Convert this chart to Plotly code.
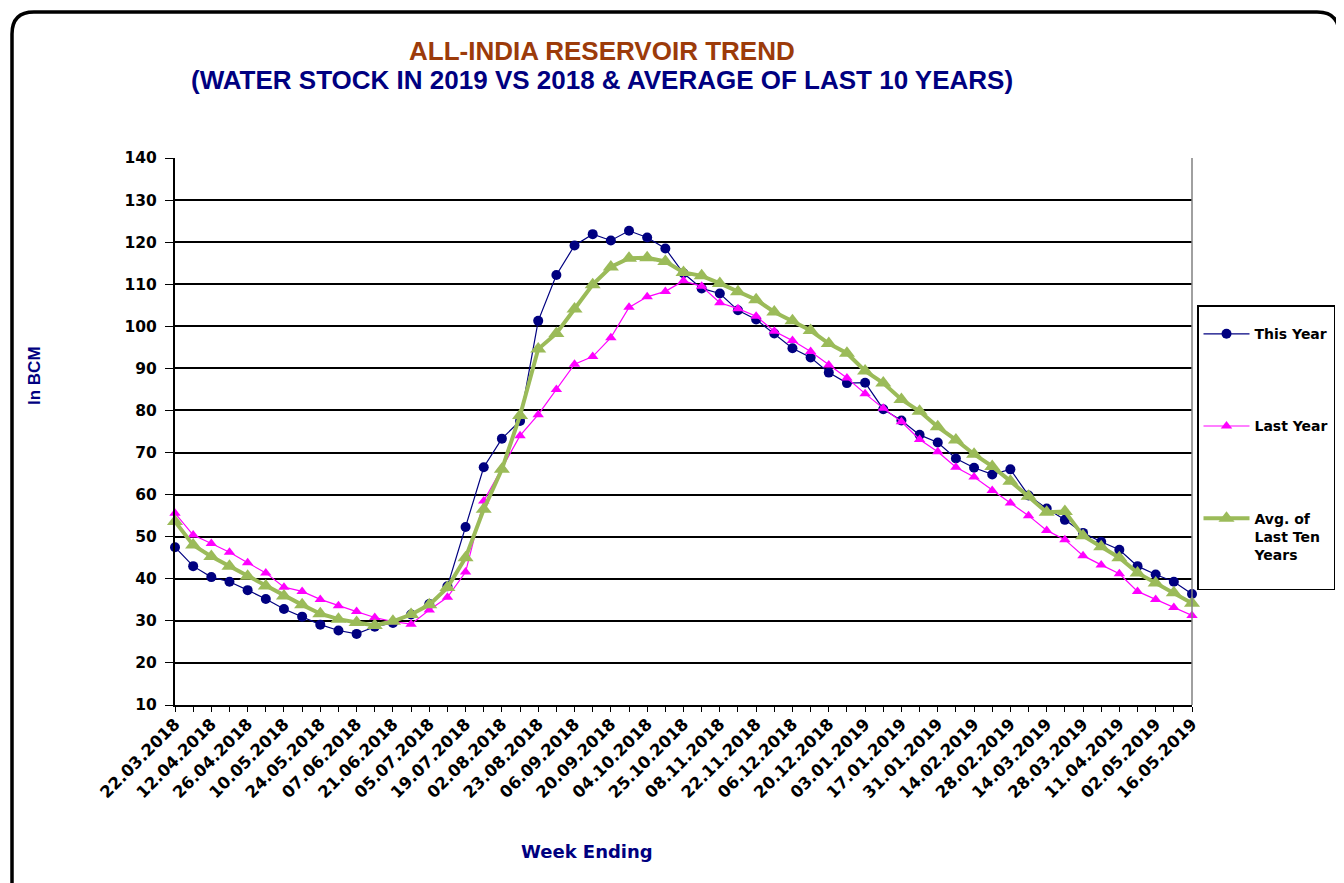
import plotly.graph_objects as go

weeks = [
    "22.03.2018", "05.04.2018", "12.04.2018", "19.04.2018", "26.04.2018", "03.05.2018",
    "10.05.2018", "17.05.2018", "24.05.2018", "31.05.2018", "07.06.2018", "14.06.2018",
    "21.06.2018", "28.06.2018", "05.07.2018", "12.07.2018", "19.07.2018", "26.07.2018",
    "02.08.2018", "16.08.2018", "23.08.2018", "30.08.2018", "06.09.2018", "13.09.2018",
    "20.09.2018", "27.09.2018", "04.10.2018", "11.10.2018", "25.10.2018", "01.11.2018",
    "08.11.2018", "15.11.2018", "22.11.2018", "29.11.2018", "06.12.2018", "13.12.2018",
    "20.12.2018", "27.12.2018", "03.01.2019", "10.01.2019", "17.01.2019", "24.01.2019",
    "31.01.2019", "07.02.2019", "14.02.2019", "21.02.2019", "28.02.2019", "07.03.2019",
    "14.03.2019", "21.03.2019", "28.03.2019", "04.04.2019", "11.04.2019", "25.04.2019",
    "02.05.2019", "09.05.2019", "16.05.2019",
]

this_year = [
    47.5, 43.0, 40.4, 39.3, 37.3, 35.2, 32.8, 31.0, 29.1, 27.7,
    26.9, 28.6, 29.5, 31.5, 34.0, 38.2, 52.3, 66.5, 73.3, 77.5,
    101.3, 112.2, 119.2, 121.9, 120.4, 122.7, 121.1, 118.5, 112.6, 109.0,
    107.8, 103.8, 101.6, 98.3, 94.8, 92.6, 89.0, 86.5, 86.6, 80.3,
    77.6, 74.2, 72.4, 68.6, 66.4, 64.8, 66.0, 59.8, 56.7, 54.0,
    50.9, 48.8, 46.9, 43.0, 41.0, 39.3, 36.4,
]

last_year = [
    55.6, 50.4, 48.4, 46.3, 43.8, 41.4, 38.0, 37.0, 35.1, 33.6,
    32.2, 30.8, 29.8, 29.2, 32.6, 35.6, 41.6, 58.5, 66.3, 74.0,
    79.0, 85.0, 91.0, 92.8, 97.3, 104.5, 107.0, 108.3, 110.8, 109.5,
    105.6, 104.2, 102.4, 98.8, 96.6, 94.0, 90.8, 87.7, 84.0, 80.5,
    77.3, 73.1, 70.2, 66.5, 64.2, 61.0, 58.0, 55.0, 51.5, 49.3,
    45.5, 43.3, 41.2, 37.0, 35.1, 33.2, 31.3,
]

avg_10yr = [
    53.6, 48.0, 45.3, 43.0, 40.6, 38.3, 35.9, 33.8, 31.7, 30.4,
    29.6, 28.9, 29.9, 31.5, 33.8, 37.9, 45.0, 56.5, 66.0, 78.8,
    94.6, 98.3, 104.1, 109.9, 114.1, 116.2, 116.3, 115.4, 112.8, 112.0,
    110.2, 108.2, 106.3, 103.4, 101.3, 99.0, 95.9, 93.6, 89.4, 86.5,
    82.6, 79.8, 76.1, 73.0, 69.6, 66.7, 63.2, 59.6, 55.8, 56.0,
    50.2, 47.6, 45.0, 41.4, 39.0, 36.7, 34.2,
]

series_names = ["This Year", "Last Year", "Avg. of<br>Last Ten<br>Years<br> "]
y_ticks = list(range(10, 141, 10))

# page body has an 8px margin, so the figure is drawn 8px smaller and all
# reference pixel positions are shifted by OFF
OFF = 8
W, H = 1344 - OFF, 883 - OFF
L, R, T, B = 175 - OFF, 152, 158 - OFF, 178
PW, PH = W - L - R, H - T - B


def px(x):
    return (x - OFF - L) / PW


def py(y):
    return (H - B - (y - OFF)) / PH


TICKFONT = "DejaVu Sans, Verdana, sans-serif"
ARIAL = "Liberation Sans, Arial, sans-serif"

fig = go.Figure()
fig.add_trace(go.Scatter(
    x=weeks, y=this_year, name=series_names[0], mode="lines+markers",
    line=dict(color="#000080", width=1.2),
    marker=dict(symbol="circle", size=10, color="#000080"),
    legendgroup="a", cliponaxis=False,
))
fig.add_trace(go.Scatter(
    x=weeks, y=last_year, name=series_names[1], mode="lines+markers",
    line=dict(color="#FF00FF", width=1.2),
    marker=dict(symbol="triangle-up", size=10, color="#FF00FF"),
    legendgroup="b", cliponaxis=False,
))
fig.add_trace(go.Scatter(
    x=weeks, y=avg_10yr, name=series_names[2], mode="lines+markers",
    line=dict(color="#9BBB59", width=4),
    marker=dict(symbol="triangle-up", size=14, color="#9BBB59"),
    legendgroup="c", cliponaxis=False,
))

ticktext = [w if i % 2 == 0 else "" for i, w in enumerate(weeks)]

fig.update_layout(
    width=W, height=H,
    margin=dict(l=L, r=R, t=T, b=B, autoexpand=False),
    paper_bgcolor="white", plot_bgcolor="white",
    font=dict(family=ARIAL, color="black"),
    showlegend=True,
    legend=dict(
        x=px(1197), y=py(305), xanchor="left", yanchor="top",
        bgcolor="white", bordercolor="black", borderwidth=1.5,
        font=dict(size=14, color="black", family=TICKFONT, weight="bold"),
        title=dict(text=" ", font=dict(size=9)),
        traceorder="grouped", tracegroupgap=71, valign="top",
        itemwidth=46, entrywidth=89,
    ),
    xaxis=dict(
        type="category", categoryorder="array", categoryarray=weeks,
        range=[0, len(weeks) - 1],
        tickmode="array", tickvals=weeks, ticktext=ticktext,
        tickangle=-45, ticks="outside", ticklen=5, tickwidth=1.2, tickcolor="black",
        tickfont=dict(size=16.5, color="black", family=TICKFONT, weight="bold"),
        ticklabelstandoff=-4,
        showline=True, linecolor="black", linewidth=2,
        showgrid=False, zeroline=False, automargin=False,
    ),
    yaxis=dict(
        range=[10, 140], tickmode="array", tickvals=y_ticks,
        ticks="outside", ticklen=8, tickwidth=1.2, tickcolor="black",
        tickfont=dict(size=15.5, color="black", family=TICKFONT, weight="bold"),
        ticklabelstandoff=5,
        showline=True, linecolor="black", linewidth=2,
        showgrid=True, gridcolor="black", gridwidth=1.5,
        zeroline=False, automargin=False,
    ),
    annotations=[
        dict(text="ALL-INDIA RESERVOIR TREND", x=px(602), y=py(51), xref="paper", yref="paper",
             xanchor="center", yanchor="middle", showarrow=False,
             font=dict(size=26, color="#9C3B0A", weight="bold")),
        dict(text="(WATER STOCK IN 2019 VS 2018 & AVERAGE OF LAST 10 YEARS)", x=px(602), y=py(80),
             xref="paper", yref="paper", xanchor="center", yanchor="middle", showarrow=False,
             font=dict(size=26, color="#000080", weight="bold")),
        dict(text="In BCM", x=px(34), y=py(376), xref="paper", yref="paper",
             xanchor="center", yanchor="middle", showarrow=False,
             textangle=-90, font=dict(size=17, color="#000080", weight="bold")),
        dict(text="Week Ending", x=px(587), y=py(851), xref="paper", yref="paper",
             xanchor="center", yanchor="middle", showarrow=False,
             font=dict(size=18, color="#000080", weight="bold", family=TICKFONT)),
    ],
)

# outer rounded frame and right plot border
r = 22
x0, x1, y0, y1 = 12, 1339, 12, 905
path = (
    f"M {px(x0)},{py(y1)} L {px(x0)},{py(y0 + r)} "
    f"Q {px(x0)},{py(y0)} {px(x0 + r)},{py(y0)} "
    f"L {px(x1 - r)},{py(y0)} "
    f"Q {px(x1)},{py(y0)} {px(x1)},{py(y0 + r)} "
    f"L {px(x1)},{py(y1)}"
)
fig.add_shape(type="path", path=path, xref="paper", yref="paper",
              line=dict(color="black", width=3.5))
fig.add_shape(type="line", x0=1, x1=1, y0=0, y1=1, xref="paper", yref="paper",
              line=dict(color="#808080", width=1.5))

fig.write_html("out.html")
